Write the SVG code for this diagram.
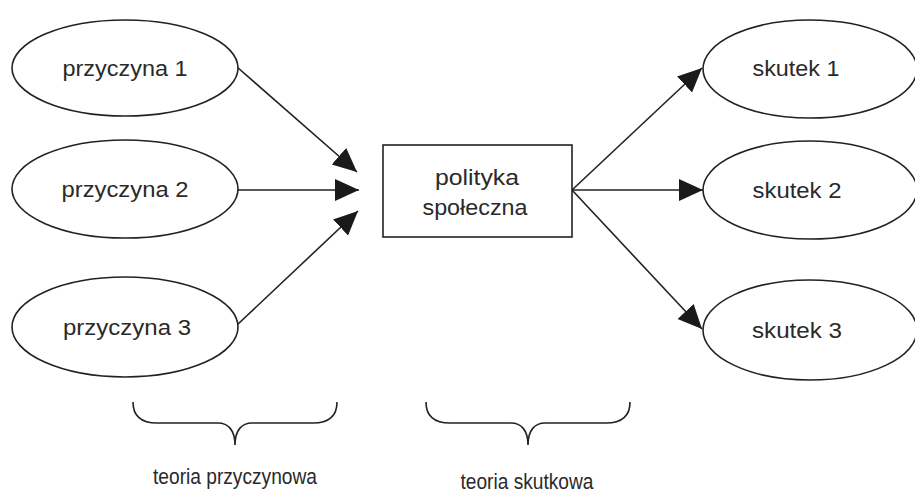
<svg xmlns="http://www.w3.org/2000/svg" width="915" height="496" viewBox="0 0 915 496">
<style>
.n{fill:#fff;stroke:#222;stroke-width:1.6}
.t{font-family:"Liberation Sans",Arial,sans-serif;font-size:21.5px;fill:#2a2a2a;text-anchor:middle}
.c{stroke:#222;stroke-width:1.6;fill:none}
</style>
<defs>
<marker id="ah" markerUnits="userSpaceOnUse" markerWidth="26" markerHeight="24" refX="24" refY="11" orient="auto">
<path d="M0,0 L24,11 L0,22 z" fill="#1a1a1a"/>
</marker>
</defs>
<rect width="915" height="496" fill="#fff"/>
<g id="connectors">
<line class="c" x1="237" y1="67" x2="357" y2="172" marker-end="url(#ah)"/>
<line class="c" x1="237" y1="190" x2="359" y2="190" marker-end="url(#ah)"/>
<line class="c" x1="237" y1="325" x2="358" y2="211" marker-end="url(#ah)"/>
<line class="c" x1="572" y1="190" x2="702" y2="68" marker-end="url(#ah)"/>
<line class="c" x1="572" y1="190" x2="703" y2="190" marker-end="url(#ah)"/>
<line class="c" x1="572" y1="190" x2="702" y2="329" marker-end="url(#ah)"/>
</g>
<g id="przyczyna1"><ellipse class="n" cx="125" cy="68" rx="113" ry="48"/><text class="t" x="125" y="76" textLength="125" lengthAdjust="spacingAndGlyphs">przyczyna 1</text></g>
<g id="przyczyna2"><ellipse class="n" cx="125" cy="189" rx="113" ry="49"/><text class="t" x="125" y="197" textLength="127" lengthAdjust="spacingAndGlyphs">przyczyna 2</text></g>
<g id="przyczyna3"><ellipse class="n" cx="125" cy="327" rx="113" ry="50"/><text class="t" x="127" y="335" textLength="128" lengthAdjust="spacingAndGlyphs">przyczyna 3</text></g>
<g id="polityka"><rect class="n" x="383" y="145" width="189" height="92"/><text class="t" x="477" y="185" textLength="84" lengthAdjust="spacingAndGlyphs">polityka</text><text class="t" x="475" y="215" textLength="105" lengthAdjust="spacingAndGlyphs">społeczna</text></g>
<g id="skutek1"><ellipse class="n" cx="810" cy="69" rx="107" ry="49"/><text class="t" x="796" y="76" textLength="87" lengthAdjust="spacingAndGlyphs">skutek 1</text></g>
<g id="skutek2"><ellipse class="n" cx="810" cy="190" rx="107" ry="49"/><text class="t" x="797" y="198" textLength="89" lengthAdjust="spacingAndGlyphs">skutek 2</text></g>
<g id="skutek3"><ellipse class="n" cx="810" cy="330" rx="107" ry="50"/><text class="t" x="797" y="338" textLength="90" lengthAdjust="spacingAndGlyphs">skutek 3</text></g>
<g id="brace-przyczynowa">
<path class="c" d="M133,402 C133,415 140,423 157,423 L218,423 C228,423 235,430 235,445 C235,430 242,423 252,423 L313,423 C330,423 337,415 337,402"/>
<text class="t" x="235" y="484" textLength="164" lengthAdjust="spacingAndGlyphs">teoria przyczynowa</text>
</g>
<g id="brace-skutkowa">
<path class="c" d="M426,402 C426,415 433,423 450,423 L511,423 C521,423 528,430 528,445 C528,430 535,423 545,423 L606,423 C623,423 630,415 630,402"/>
<text class="t" x="527" y="489" textLength="133" lengthAdjust="spacingAndGlyphs">teoria skutkowa</text>
</g>
</svg>
